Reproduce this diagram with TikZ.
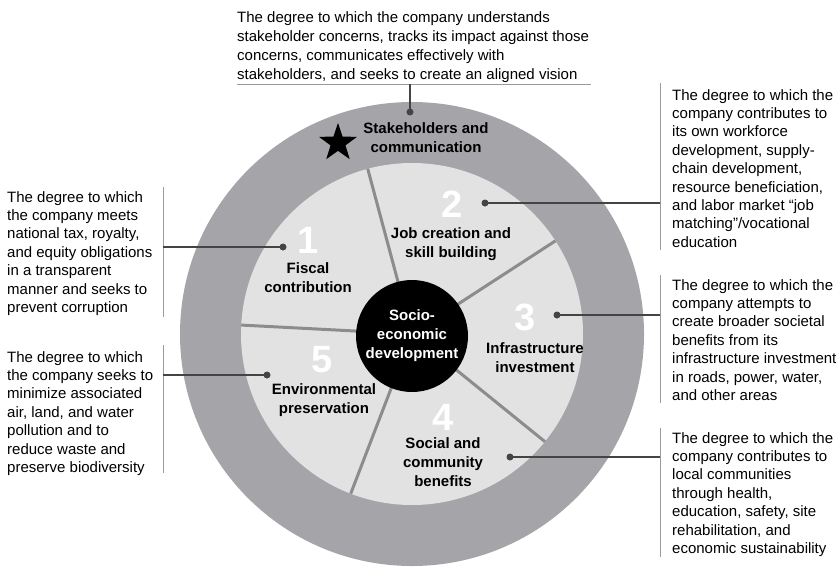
\documentclass[tikz,border=0pt]{standalone}
\usepackage{fontspec}
\setmainfont{Liberation Sans}
\usetikzlibrary{shapes.geometric}
\definecolor{ringgray}{HTML}{A5A5A9}
\definecolor{innergray}{HTML}{E2E2E2}
\definecolor{sepgray}{HTML}{8C8C8C}
\definecolor{leadgray}{HTML}{444444}
\definecolor{bargray}{HTML}{9A9A9A}
\begin{document}
\begin{tikzpicture}[x=1pt,y=-1pt,
  desc/.style={anchor=north west, align=left, inner sep=0pt, font=\fontsize{15}{18.4}\selectfont, text=black},
  topdesc/.style={desc, font=\fontsize{15}{19.2}\selectfont},
  lab/.style={align=center, inner sep=0pt, font=\bfseries\fontsize{15}{19}\selectfont},
  num/.style={inner sep=0pt, text=white, font=\bfseries\fontsize{38}{38}\selectfont},
  sepline/.style={draw=sepgray, line width=3pt},
  leader/.style={draw=leadgray, line width=1.3pt},
  bar/.style={draw=bargray, line width=0.7pt},
  dot/.style={circle, fill=leadgray, inner sep=0pt, minimum size=7pt}]
\useasboundingbox (0,0) rectangle (840,570);
\fill[white] (0,0) rectangle (840,570);
\coordinate (c) at (412,334);
\fill[ringgray] (c) circle (232);
\fill[innergray] (c) circle (171);
\foreach \a in {105,33,-39,-111,177}
  \draw[sepline] ([shift={(-\a:50)}]c) -- ([shift={(-\a:171)}]c);
\node[circle, fill=black, minimum size=112pt, inner sep=0pt, lab, text=white] (core) at (412,336) {Socio-\\economic\\development};

% star and ring label
\node[star, star points=5, star point ratio=2.55, fill=black, minimum size=40pt, inner sep=0pt] (star) at (338,143) {};
\node[lab] (stake) at (426,137.5) {Stakeholders and\\communication};

% numbers
\node[num] (n1) at (308,240) {1};
\node[num] (n2) at (452,204) {2};
\node[num] (n3) at (525,317) {3};
\node[num] (n4) at (443,417) {4};
\node[num] (n5) at (322,360) {5};

% segment labels
\node[lab] (l1) at (308,277.5) {Fiscal\\contribution};
\node[lab] (l2) at (451,244) {Job creation and\\skill building};
\node[lab] (l3) at (535,357.5) {Infrastructure\\investment};
\node[lab] (l4) at (443,462) {Social and\\community\\benefits};
\node[lab] (l5) at (324,400) {Environmental\\preservation};

% descriptions
\node[topdesc] (t0) at (237,11) {The degree to which the company understands\\stakeholder concerns, tracks its impact against those\\concerns, communicates effectively with\\stakeholders, and seeks to create an aligned vision};
\node[desc] (t1) at (7,191) {The degree to which\\the company meets\\national tax, royalty,\\and equity obligations\\in a transparent\\manner and seeks to\\prevent corruption};
\node[desc] (t5) at (7,351) {The degree to which\\the company seeks to\\minimize associated\\air, land, and water\\pollution and to\\reduce waste and\\preserve biodiversity};
\node[desc] (t2) at (672,89) {The degree to which the\\company contributes to\\its own workforce\\development, supply-\\chain development,\\resource beneficiation,\\and labor market “job\\matching”/vocational\\education};
\node[desc] (t3) at (672,279) {The degree to which the\\company attempts to\\create broader societal\\benefits from its\\infrastructure investment\\in roads, power, water,\\and other areas};
\node[desc] (t4) at (672,432) {The degree to which the\\company contributes to\\local communities\\through health,\\education, safety, site\\rehabilitation, and\\economic sustainability};

% bars
\coordinate (h0a) at (237,84);
\coordinate (h0b) at (591,84);
\draw[bar] (h0a) -- (h0b);
\coordinate (b1a) at (163,187); \coordinate (b1b) at (163,317);
\draw[bar] (b1a) -- (b1b);
\coordinate (b5a) at (163,345); \coordinate (b5b) at (163,473);
\draw[bar] (b5a) -- (b5b);
\coordinate (b2a) at (660,83); \coordinate (b2b) at (660,250);
\draw[bar] (b2a) -- (b2b);
\coordinate (b3a) at (660,275); \coordinate (b3b) at (660,403);
\draw[bar] (b3a) -- (b3b);
\coordinate (b4a) at (660,428); \coordinate (b4b) at (660,557);
\draw[bar] (b4a) -- (b4b);

% leaders
\node[dot] (d0) at (410,112) {};
\coordinate (j0) at (410,84);
\draw[leader] (d0.center) -- (j0);
\node[dot] (d1) at (283,247) {};
\coordinate (j1) at (163,247);
\draw[leader] (d1.center) -- (j1);
\node[dot] (d5) at (267,375) {};
\coordinate (j5) at (163,375);
\draw[leader] (d5.center) -- (j5);
\node[dot] (d2) at (485,203) {};
\coordinate (j2) at (660,203);
\draw[leader] (d2.center) -- (j2);
\node[dot] (d3) at (557,315) {};
\coordinate (j3) at (660,315);
\draw[leader] (d3.center) -- (j3);
\node[dot] (d4) at (510,457) {};
\coordinate (j4) at (660,457);
\draw[leader] (d4.center) -- (j4);
\end{tikzpicture}
\end{document}
